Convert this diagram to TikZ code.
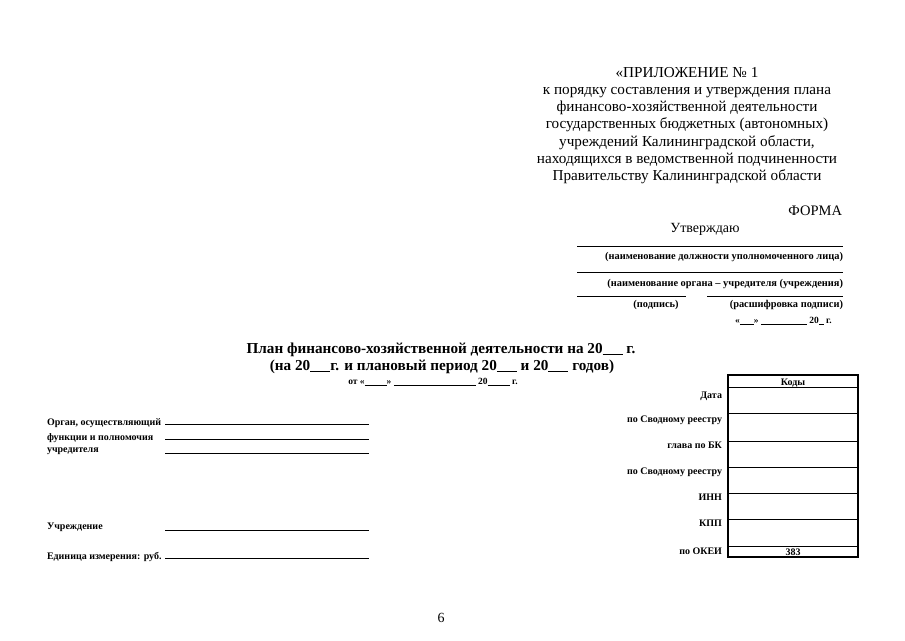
\documentclass[tikz,border=0pt]{standalone}
\usepackage{fontspec}
\setmainfont{Liberation Serif}
\begin{document}
\begin{tikzpicture}[x=1pt,y=-1pt,
  every node/.style={inner sep=0pt, outer sep=0pt},
  hdr/.style={font=\fontsize{15.2}{16.4}\selectfont, anchor=base},
  nrm/.style={font=\fontsize{14}{16}\selectfont, anchor=base},
  sm/.style={font=\bfseries\fontsize{10.4}{12}\selectfont, anchor=base},
  lbl/.style={font=\bfseries\fontsize{10}{12}\selectfont, anchor=base west},
  rlbl/.style={font=\bfseries\fontsize{10}{12}\selectfont, anchor=base east},
  ttl/.style={font=\bfseries\fontsize{15.2}{17}\selectfont, anchor=base},
  fline/.style={line width=0.8pt},
  frame/.style={line width=1.2pt},
  row/.style={line width=0.8pt}]
\useasboundingbox (0,0) rectangle (905,640);
\fill[white] (0,0) rectangle (905,640);

% header
\node[hdr] (h1) at (687,77) {«ПРИЛОЖЕНИЕ № 1};
\node[hdr] (h2) at (687,94.3) {к порядку составления и утверждения плана};
\node[hdr] (h3) at (687,111.6) {финансово-хозяйственной деятельности};
\node[hdr] (h4) at (687,128.9) {государственных бюджетных (автономных)};
\node[hdr] (h5) at (687,146.2) {учреждений Калининградской области,};
\node[hdr] (h6) at (687,163.5) {находящихся в ведомственной подчиненности};
\node[hdr] (h7) at (687,180.8) {Правительству Калининградской области};

\node[nrm, anchor=base east, font=\fontsize{14.5}{16}\selectfont] (forma) at (842,215) {ФОРМА};
\node[nrm] (utv) at (705,232) {Утверждаю};

% signature lines
\coordinate (l1a) at (577,246); \coordinate (l1b) at (843,246);
\draw[fline] (l1a) -- (l1b);
\node[sm, anchor=base east] (t1) at (843,259) {(наименование должности уполномоченного лица)};
\coordinate (l2a) at (577,272); \coordinate (l2b) at (843,272);
\draw[fline] (l2a) -- (l2b);
\node[sm, anchor=base east] (t2) at (843,286) {(наименование органа – учредителя (учреждения)};
\coordinate (l3a) at (577,296); \coordinate (l3b) at (686,296);
\coordinate (l4a) at (707,296); \coordinate (l4b) at (843,296);
\draw[fline] (l3a) -- (l3b);
\draw[fline] (l4a) -- (l4b);
\node[sm] (t3) at (656,307) {(подпись)};
\node[sm, anchor=base east] (t4) at (843,307) {(расшифровка подписи)};
\node[sm, anchor=base west, font=\bfseries\fontsize{9.5}{11}\selectfont] (t5) at (735,323) {«\underline{\hspace{14pt}}» \underline{\hspace{46pt}} 20\underline{\hspace{5pt}} г.};

% title
\node[ttl] (ti1) at (441,353) {План финансово-хозяйственной деятельности на 20\underline{\hspace{20pt}} г.};
\node[ttl] (ti2) at (442,370) {(на 20\underline{\hspace{20pt}}г. и плановый период 20\underline{\hspace{20pt}} и 20\underline{\hspace{20pt}} годов)};
\node[sm, font=\bfseries\fontsize{9.5}{11}\selectfont] (ti3) at (433,384) {от «\underline{\hspace{22pt}}» \underline{\hspace{82pt}} 20\underline{\hspace{22pt}} г.};

% left labels
\node[lbl] (a1) at (47,425) {Орган, осуществляющий};
\node[lbl] (a2) at (47,440) {функции и полномочия};
\node[lbl] (a3) at (47,452) {учредителя};
\node[lbl] (a4) at (47,529) {Учреждение};
\node[lbl] (a5) at (47,559) {Единица измерения: руб.};
\foreach \n/\y/\xa in {1/424/165,2/439/165,3/453/165,4/530/165,5/558/165}{
  \coordinate (la\n) at (\xa,\y); \coordinate (lb\n) at (369,\y);
  \draw[fline] (la\n) -- (lb\n);
}

% codes table
\coordinate (tl) at (728,375); \coordinate (br) at (858,557);
\draw[frame] (tl) rectangle (br);
\foreach \n/\y in {1/387,2/413,3/441,4/467,5/493,6/519,7/546}{
  \coordinate (ra\n) at (728,\y); \coordinate (rb\n) at (858,\y);
  \draw[row] (ra\n) -- (rb\n);
}
\node[font=\bfseries\fontsize{10}{12}\selectfont, anchor=base] (kody) at (793,385) {Коды};
\node[font=\bfseries\fontsize{10}{12}\selectfont, anchor=base] (okei) at (793,555) {383};

\node[rlbl] (r1) at (722,398) {Дата};
\node[rlbl] (r2) at (722,422) {по Сводному реестру};
\node[rlbl] (r3) at (722,448) {глава по БК};
\node[rlbl] (r4) at (722,474) {по Сводному реестру};
\node[rlbl] (r5) at (722,500) {ИНН};
\node[rlbl] (r6) at (722,526) {КПП};
\node[rlbl] (r7) at (722,554) {по ОКЕИ};

% page number
\node[nrm] (pg) at (441,622) {6};
\end{tikzpicture}
\end{document}
